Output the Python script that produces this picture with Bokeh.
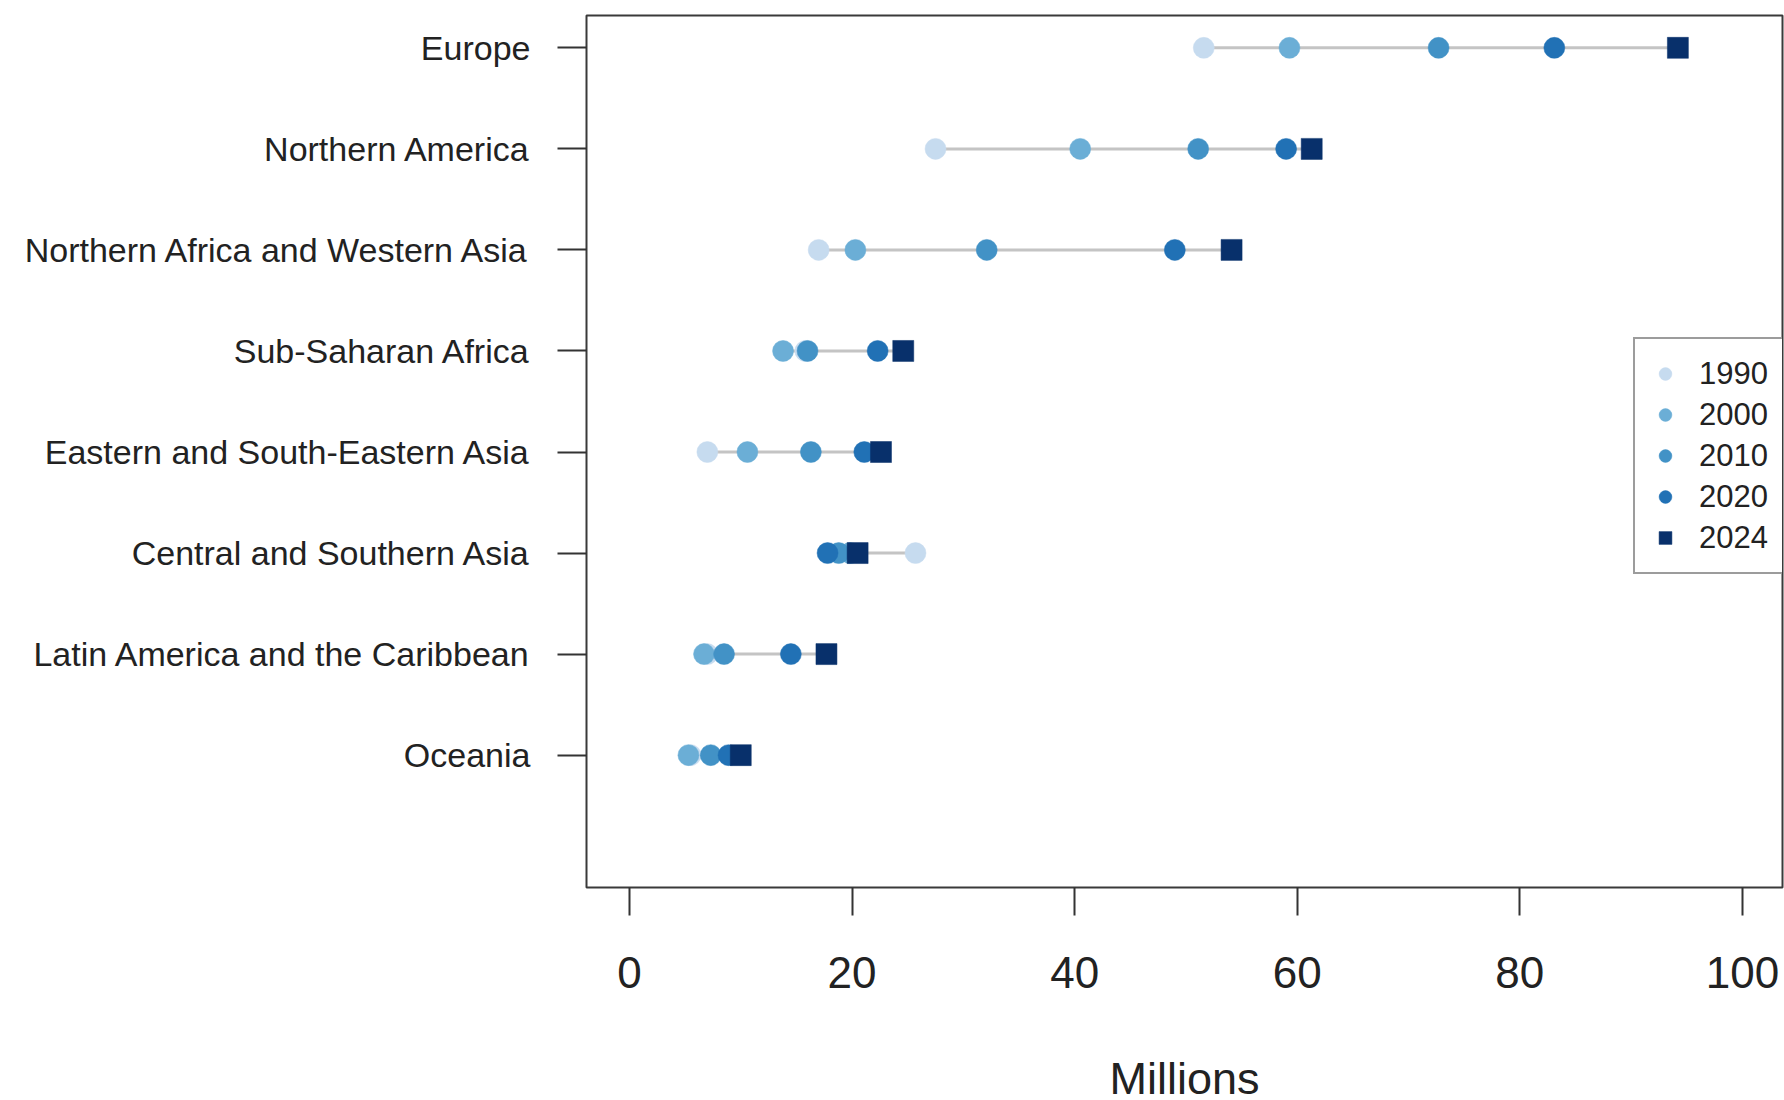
from bokeh.plotting import figure
from bokeh.models import ColumnDataSource, Range1d, FixedTicker, Legend, LegendItem
from bokeh.embed import file_html
from bokeh.resources import INLINE

regions = ["Europe", "Northern America", "Northern Africa and Western Asia",
           "Sub-Saharan Africa", "Eastern and South-Eastern Asia",
           "Central and Southern Asia", "Latin America and the Caribbean", "Oceania"]
years = ["1990", "2000", "2010", "2020", "2024"]
v1990 = [51.6, 27.5, 17.0, 15.8, 7.0, 25.7, 7.0, 5.5]
v2000 = [59.3, 40.5, 20.3, 13.8, 10.6, 19.8, 6.7, 5.3]
v2010 = [72.7, 51.1, 32.1, 16.0, 16.3, 18.8, 8.5, 7.3]
v2020 = [83.1, 59.0, 49.0, 22.3, 21.1, 17.8, 14.5, 8.9]
v2024 = [94.2, 61.3, 54.1, 24.6, 22.6, 20.5, 17.7, 10.0]
colors = ["#c6dbef", "#6baed6", "#4292c6", "#2171b5", "#08306b"]
x_ticks = [0, 20, 40, 60, 80, 100]

series = [v1990, v2000, v2010, v2020, v2024]
n = len(regions)
ypos = [n - i for i in range(n)]

FONT = "Liberation Sans"
TXT = "#222222"

p = figure(frame_width=1196, frame_height=872, width=1784, height=1100,
           output_backend="svg", toolbar_location=None,
           x_range=Range1d(-3.86, 103.6), y_range=Range1d(-0.31, 8.32),
           min_border_left=586, min_border_right=2, min_border_top=15, min_border_bottom=213)
p.background_fill_color = "white"
p.border_fill_color = "white"
p.outline_line_color = "#3a3a3a"
p.outline_line_width = 2
p.xgrid.visible = False
p.ygrid.visible = False

seg = ColumnDataSource(dict(
    y=ypos,
    x0=[min(vals) for vals in zip(*series)],
    x1=[max(vals) for vals in zip(*series)],
))
p.segment(x0="x0", x1="x1", y0="y", y1="y", source=seg, line_color="#c4c4c4", line_width=3)

items = []
for yr, vals, col in zip(years, series, colors):
    src = ColumnDataSource(dict(x=vals, y=ypos))
    marker = "square" if yr == "2024" else "circle"
    r = p.scatter("x", "y", source=src, marker=marker, size=21,
                  fill_color=col, line_color=col, line_width=0.5)
    items.append(LegendItem(label=yr, renderers=[r]))

legend = Legend(items=items, location=(1047, 313))
legend.padding = 14
legend.spacing = 0
legend.glyph_width = 32
legend.glyph_height = 41
legend.label_height = 41
legend.label_standoff = 18
legend.label_text_font = FONT
legend.label_text_font_size = "31px"
legend.label_text_color = TXT
legend.border_line_color = "#3a3a3a"
legend.border_line_width = 2
legend.background_fill_color = "white"
legend.background_fill_alpha = 1.0
legend.margin = 0
p.add_layout(legend)

# x axis
xa = p.xaxis[0]
xa.ticker = FixedTicker(ticks=x_ticks)
xa.axis_line_color = None
xa.major_tick_out = 28
xa.major_tick_in = 0
xa.minor_tick_line_color = None
xa.major_tick_line_color = "#333333"
xa.major_tick_line_width = 2
xa.major_label_text_font = FONT
xa.major_label_text_font_size = "44px"
xa.major_label_text_color = TXT
xa.major_label_standoff = 41
xa.axis_label = "Millions"
xa.axis_label_text_font = FONT
xa.axis_label_text_font_size = "45px"
xa.axis_label_text_font_style = "normal"
xa.axis_label_text_color = TXT
xa.axis_label_standoff = 62

# y axis
ya = p.yaxis[0]
ya.ticker = FixedTicker(ticks=ypos)
ya.major_label_overrides = {y: name for y, name in zip(ypos, regions)}
ya.axis_line_color = None
ya.major_tick_out = 29
ya.major_tick_in = 0
ya.minor_tick_line_color = None
ya.major_tick_line_color = "#333333"
ya.major_tick_line_width = 2
ya.major_label_text_font = FONT
ya.major_label_text_font_size = "34px"
ya.major_label_text_color = TXT
ya.major_label_standoff = 27

open("out.html", "w").write(file_html(p, INLINE))
